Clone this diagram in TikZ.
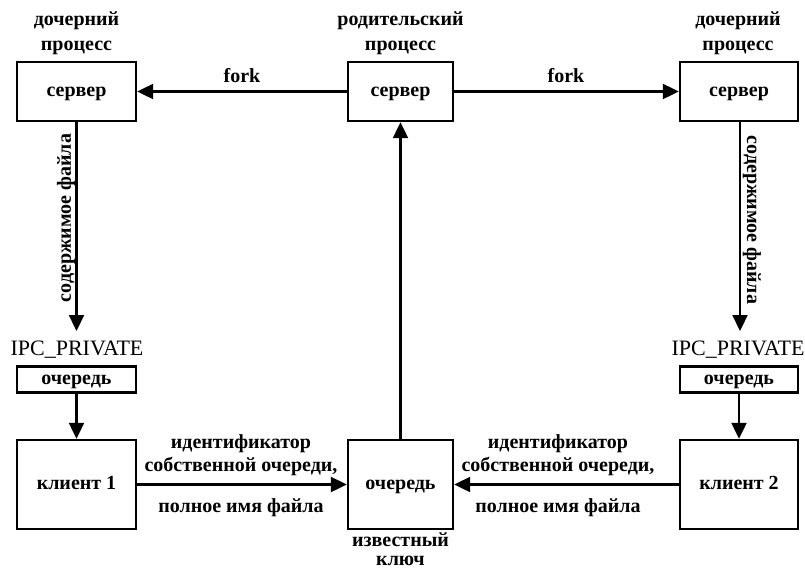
\documentclass[tikz,border=0pt]{standalone}
\usepackage{fontspec}
\setmainfont{Liberation Serif}
\usetikzlibrary{arrows.meta}
\begin{document}
\begin{tikzpicture}[x=1pt,y=-1pt,
  every node/.style={font=\fontsize{20}{24}\selectfont\bfseries},
  box/.style={draw,line width=2.4pt,inner sep=0pt,text height=10pt,text depth=0pt},
  lbl/.style={anchor=base,inner sep=0pt},
  keylbl/.style={lbl,font=\fontsize{22}{26}\selectfont},
  flow/.style={line width=2.2pt,-{Triangle[length=16pt,width=15pt]}}]
\useasboundingbox (0,0) rectangle (805,571);

% process boxes
\node[box,minimum width=119pt,minimum height=59pt] (srvL) at (76.5,91.5) {сервер};
\node[box,minimum width=105pt,minimum height=59pt] (srvC) at (400.5,91.5) {сервер};
\node[box,minimum width=118pt,minimum height=59pt] (srvR) at (739,91.5) {сервер};

% queues and clients
\node[box,minimum width=119pt,minimum height=26pt] (qL) at (76.5,379.5) {очередь};
\node[box,minimum width=118pt,minimum height=26pt] (qR) at (739,379.5) {очередь};
\node[box,minimum width=119pt,minimum height=89pt] (cl1) at (76.5,484.5) {клиент 1};
\node[box,minimum width=105pt,minimum height=89pt] (qC) at (400.5,484.5) {очередь};
\node[box,minimum width=118pt,minimum height=89pt] (cl2) at (739,484.5) {клиент 2};

% captions above the servers
\node[lbl] (capL1) at (76.5,25) {дочерний};
\node[lbl] (capL2) at (76.5,50) {процесс};
\node[lbl] (capC1) at (400.5,25) {родительский};
\node[lbl] (capC2) at (400.5,50) {процесс};
\node[lbl] (capR1) at (738,25) {дочерний};
\node[lbl] (capR2) at (738,50) {процесс};

% private queue keys
\node[keylbl] (ipcL) at (77,355) {IPC\_PRIVATE};
\node[keylbl] (ipcR) at (738,355) {IPC\_PRIVATE};
\coordinate (tipL) at (76.5,331);
\coordinate (tipR) at (740,331);

% well-known key
\node[lbl] (key1) at (400.5,546) {известный};
\node[lbl] (key2) at (400.5,565) {ключ};

% fork arrows
\draw[flow] (srvC.west) -- (srvL.east);
\draw[flow] (srvC.east) -- (srvR.west);
\node[lbl] (forkL) at (242,82) {fork};
\node[lbl] (forkR) at (566,82) {fork};

% file contents
\draw[flow] (srvL.south) -- (tipL);
\draw[flow] (srvR.south -| tipR) -- (tipR);
\node[rotate=90,inner sep=0pt] (fileL) at (66,218) {содержимое файла};
\node[rotate=-90,inner sep=0pt] (fileR) at (752,220) {содержимое файла};

% queues to clients
\draw[flow] (qL.south) -- (cl1.north);
\draw[flow] (qR.south) -- (cl2.north);

% requests to the server queue
\draw[flow] (cl1.east) -- (qC.west);
\draw[flow] (cl2.west) -- (qC.east);
\draw[flow] (qC.north) -- (srvC.south);

\node[lbl] (reqL1) at (241,448) {идентификатор};
\node[lbl] (reqL2) at (241,471) {собственной очереди,};
\node[lbl] (reqL3) at (241,512) {полное имя файла};
\node[lbl] (reqR1) at (558,448) {идентификатор};
\node[lbl] (reqR2) at (558,471) {собственной очереди,};
\node[lbl] (reqR3) at (558,512) {полное имя файла};
\end{tikzpicture}
\end{document}
